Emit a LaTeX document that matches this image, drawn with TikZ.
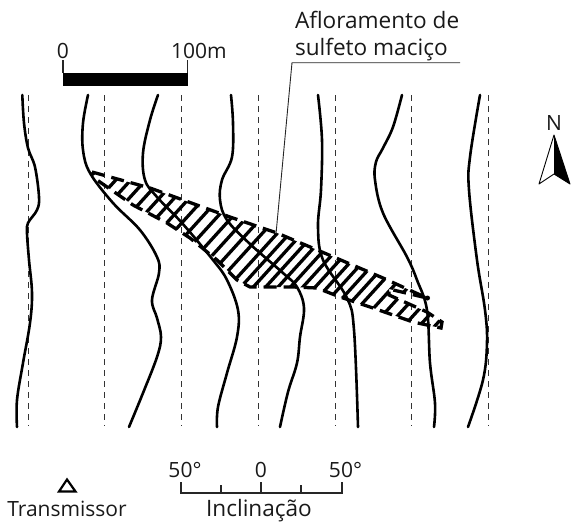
\documentclass[tikz,border=0pt]{standalone}
\usepackage{fontspec}
\setmainfont{Open Sans}
\tikzset{
  lbl/.style={inner sep=0pt,outer sep=0pt,font=\fontsize{21}{24}\selectfont,text=black!90},
  lblwide/.style={inner sep=0pt,outer sep=0pt,font=\fontsize{22.6}{24}\selectfont,text=black!90},
  track/.style={line width=1pt,dash pattern=on 6pt off 5pt,black!80},
  profile/.style={line width=2.6pt,line cap=round,line join=round},
  leader/.style={line width=0.9pt,black!85},
  tickline/.style={line width=1.1pt,black!85},
  orefill/.style={line width=3.3pt,line cap=butt},
  oreedge/.style={line width=3.3pt,dash pattern=on 13pt off 7pt,line join=miter}
}
\begin{document}
\begin{tikzpicture}[x=1pt,y=-1pt]
\useasboundingbox (0,0) rectangle (579,522);
% survey lines
\foreach \xx in {28,104.5,181.5,258,335,411.5,488.5}
  \draw[track] (\xx,95) -- (\xx,426);
% ore body
\def\orepath{(92,172) -- (150,188) -- (230,217) -- (277,233) -- (322,252) -- (383,278) -- (427,298) -- (389,289) -- (389,295) -- (427,312) -- (442,322) -- (441,328) -- (413,322) -- (373,308) -- (340,297) -- (317,288) -- (293,287) -- (250,287) -- (237,280) -- (217,260) -- (190,238) -- (167,223) -- (133,205) -- (97,180) -- cycle}
\begin{scope}
  \clip \orepath;
  \foreach \k in {-14,...,0}
    \draw[orefill] ({228.5+15*\k-100},{287+110}) -- ({228.5+15*\k+100},{287-110});
  \foreach \k in {1,...,12}
    \draw[orefill] ({228.5+12.4*\k-100},{287+110}) -- ({228.5+12.4*\k+100},{287-110});
  \foreach \k in {1,...,8}
    \draw[orefill] ({377.3+15.5*\k-100},{287+110}) -- ({377.3+15.5*\k+100},{287-110});
\end{scope}
\draw[oreedge] \orepath;
\fill (427.5,298) circle (2.5pt);
% profiles
\draw[profile] plot[smooth,tension=.6] coordinates {(22.3,95) (24,123) (28,148) (35,167) (39,197) (37,210) (28,223) (27,233) (29,260) (32,293) (30,323) (23,363) (17,400) (17,427)};
\draw[profile] plot[smooth,tension=.6] coordinates {(88,95) (83,123) (83,150) (90,173) (113,203) (140,230) (157,257) (159,273) (152,300) (157,318) (161,337) (157,357) (143,393) (129,427)};
\draw[profile] plot[smooth,tension=.6] coordinates {(158,95) (150,120) (143,153) (145,180) (157,197) (182,223) (213,260) (227,280) (238,310) (237,337) (227,373) (218,407) (217,427)};
\draw[profile] plot[smooth,tension=.6] coordinates {(231,95) (233,123) (232,157) (222,180) (220,200) (227,220) (250,244) (283,273) (297,287) (304,308) (300,337) (297,363) (288,392) (280,427)};
\draw[profile] plot[smooth,tension=.6] coordinates {(318,95) (322,140) (321,190) (318,227) (323,260) (347,298) (354,330) (358,427)};
\draw[profile] plot[smooth,tension=.6] coordinates {(402,95) (393,127) (383,148) (376,162) (375,180) (383,213) (407,257) (417,280) (427,310) (430,363) (435,403) (434,427)};
\draw[profile] plot[smooth,tension=.6] coordinates {(480,95) (470,157) (469,190) (477,260) (485,310) (487,343) (483,380) (468,427)};
% scale bar
\coordinate (sbL) at (63,60);
\coordinate (sbR) at (187.5,60);
\fill (63,73) rectangle (188,86);
\draw[tickline] (sbL) -- (63,73);
\draw[tickline] (sbR) -- (187.5,73);
\node[lbl,anchor=base] (zero) at (63,58) {0};
\node[lbl,anchor=base west] (hundred) at (171,58) {100m};
% outcrop label
\node[lblwide,anchor=base west] (afl) at (295,28) {Afloramento de};
\node[lblwide,anchor=base west] (sulf) at (295,55) {sulfeto maciço};
\coordinate (ldA) at (460,62.7);
\coordinate (ldB) at (292,62.7);
\coordinate (ldC) at (276,234);
\draw[leader] (ldA) -- (ldB) -- (ldC);
% north arrow
\node[lbl,anchor=base] (north) at (554,130) {N};
\coordinate (nA) at (554,135);
\coordinate (nL) at (539,184);
\coordinate (nM) at (554,174);
\coordinate (nR) at (570,184);
\fill (nA) -- (nR) -- (nM) -- cycle;
\draw[line width=0.9pt,line join=round] (nA) -- (nL) -- (nM) -- (nR) -- cycle;
% transmitter
\coordinate (tA) at (67,479.5);
\coordinate (tB) at (59,491.5);
\coordinate (tC) at (75.5,491.5);
\draw[line width=2.2pt] (tA) -- (tB) -- (tC) -- cycle;
\node[lbl,anchor=base] (trans) at (67,516) {Transmissor};
% inclination scale
\draw[tickline] (181,482) -- (181,493) -- (342,493) -- (342,482);
\draw[tickline] (221,485) -- (221,493);
\draw[tickline] (261,482) -- (261,493);
\draw[tickline] (301,485) -- (301,493);
\node[lbl,anchor=base] (fl) at (185,477) {50°};
\node[lbl,anchor=base] (fc) at (261,477) {0};
\node[lbl,anchor=base] (fr) at (345.5,477) {50°};
\node[lblwide,anchor=base] (incl) at (259,516) {Inclinação};
\end{tikzpicture}
\end{document}
